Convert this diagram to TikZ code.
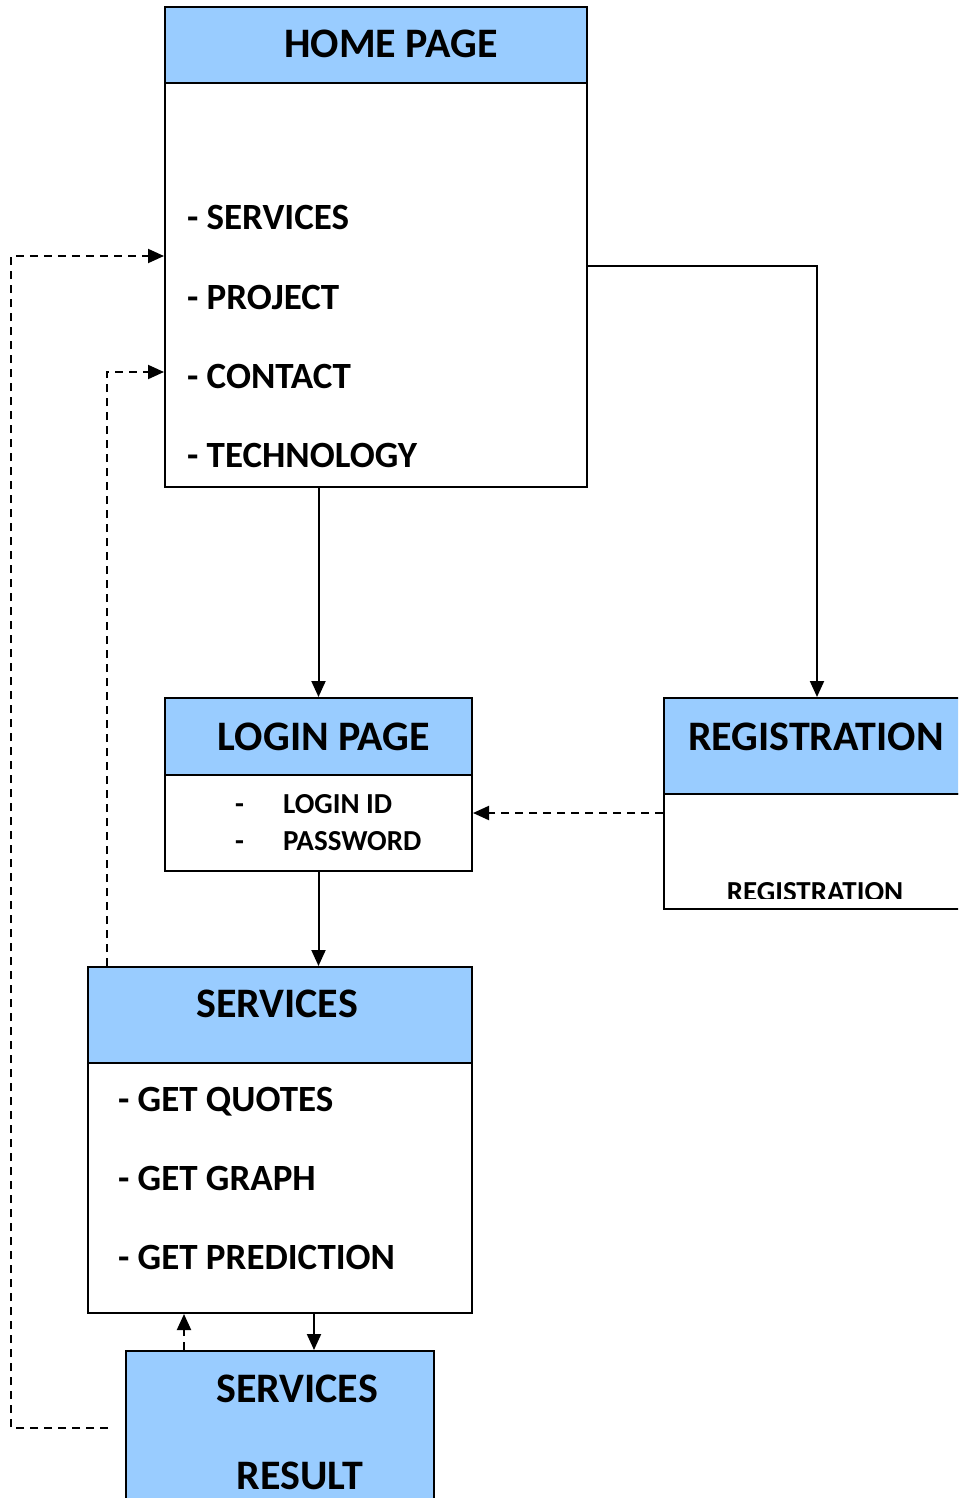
\documentclass[tikz,border=0pt]{standalone}
\usepackage{fontspec}
\setmainfont{Carlito}
\usetikzlibrary{arrows.meta}
\definecolor{hdrblue}{RGB}{153,204,255}
\begin{document}
\begin{tikzpicture}[x=0.5pt, y=-0.5pt, line width=1pt,
  every node/.style={font=\bfseries},
  hdr/.style={draw, fill=hdrblue, inner sep=0pt},
  bodybox/.style={draw, fill=white, inner sep=0pt},
  title/.style={anchor=base, inner sep=0pt, font=\bfseries\fontsize{21}{25}\selectfont},
  item/.style={anchor=base west, inner sep=0pt, font=\bfseries\fontsize{18.5}{22}\selectfont},
  small/.style={anchor=base west, inner sep=0pt, font=\bfseries\fontsize{14.5}{17}\selectfont},
  arr/.style={-{Triangle[length=8pt,width=7pt]}},
  dasharr/.style={arr, dash pattern=on 4pt off 3pt}]
\clip (0,0) rectangle (958,1498);
% Home page
\node[hdr, minimum width=211pt, minimum height=38pt] (homehdr) at (376,45) {};
\node[bodybox, minimum width=211pt, minimum height=202pt] (homebody) at (376,285) {};
\node[title] (hometitle) at (391,58) {HOME PAGE};
\node[item] (hservices) at (186,229) {- SERVICES};
\node[item] (hproject) at (186,309) {- PROJECT};
\node[item] (hcontact) at (186,388) {- CONTACT};
\node[item] (htech) at (186,467) {- TECHNOLOGY};
% Login page
\node[hdr, minimum width=153.5pt, minimum height=38.5pt] (loginhdr) at (318.5,736.5) {};
\node[bodybox, minimum width=153.5pt, minimum height=48pt] (loginbody) at (318.5,823) {};
\node[title] (logintitle) at (324,750) {LOGIN PAGE};
\node[small] (dash1) at (234,813) {-};
\node[small] (dash2) at (234,850) {-};
\node[small] (loginid) at (282,813) {LOGIN ID};
\node[small] (password) at (282,850) {PASSWORD};
% Registration
\node[hdr, minimum width=153pt, minimum height=48pt] (reghdr) at (817,746) {};
\node[bodybox, minimum width=153pt, minimum height=57.5pt] (regbody) at (817,851.5) {};
\node[title] (regtitle) at (816,750) {REGISTRATION};
\begin{scope}
  \clip (664,794) rectangle (970,898);
  \node[small, anchor=base] (regtext) at (815,901) {REGISTRATION};
\end{scope}
% Services
\node[hdr, minimum width=192pt, minimum height=48pt] (svchdr) at (280,1015) {};
\node[bodybox, minimum width=192pt, minimum height=125pt] (svcbody) at (280,1188) {};
\node[title] (svctitle) at (277,1017) {SERVICES};
\node[item] (quotes) at (117,1111) {- GET QUOTES};
\node[item] (graph) at (117,1190) {- GET GRAPH};
\node[item] (prediction) at (117,1269) {- GET PREDICTION};
% Services result
\node[hdr, minimum width=154pt, minimum height=84.5pt] (result) at (280,1435.5) {};
\node[title] (restitle1) at (297,1402) {SERVICES};
\node[title] (restitle2) at (300,1489) {RESULT};
% Arrows
\draw[arr] (homebody.east |- 0,266) -| (reghdr.north);
\draw[arr] (homebody.south -| loginhdr.north) -- (loginhdr.north);
\draw[arr] (loginbody.south) -- (loginbody.south |- svchdr.north);
\draw[dasharr] (regbody.west |- 0,813) -- (loginbody.east |- 0,813);
\draw[arr] (svcbody.south -| 314,0) -- (result.north -| 314,0);
\draw[dasharr] (result.north -| 184,0) -- (svcbody.south -| 184,0);
% Dashed returns to home page
\coordinate (retstart) at (108,1428);
\draw[dasharr] (retstart) -- (11,1428) |- (homebody.west |- 0,256);
\draw[dasharr] (svchdr.north -| 107,0) |- (homebody.west |- 0,372);
\end{tikzpicture}
\end{document}
